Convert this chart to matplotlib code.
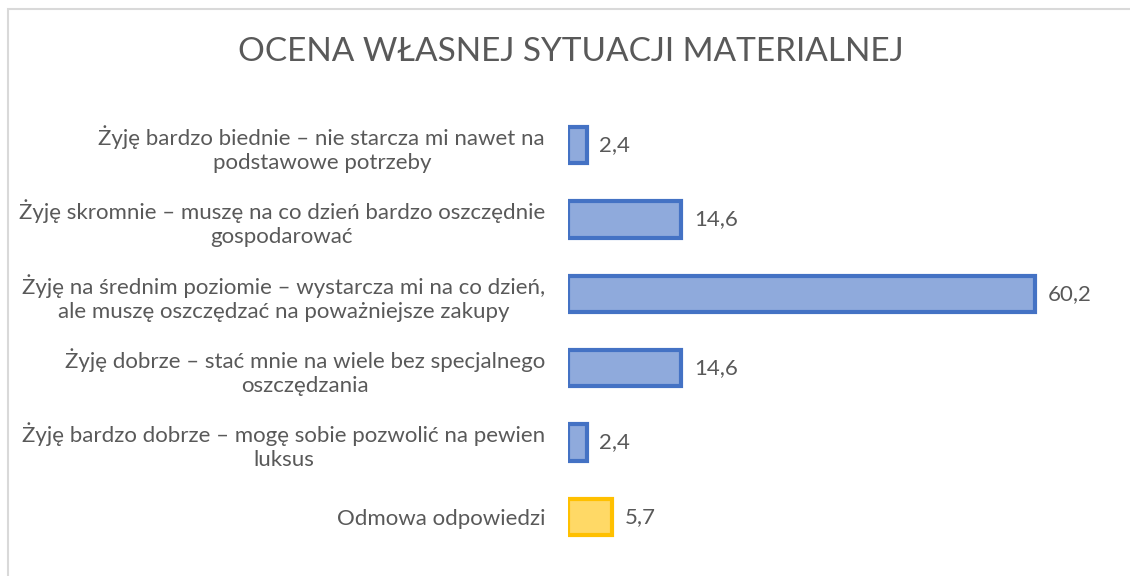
import matplotlib
matplotlib.use("Agg")
import matplotlib.pyplot as plt
from matplotlib.patches import Rectangle

plt.rcParams['font.family'] = ['Lato', 'DejaVu Sans']

categories = [
    "Żyję bardzo biednie – nie starcza mi nawet na\npodstawowe potrzeby",
    "Żyję skromnie – muszę na co dzień bardzo oszczędnie\ngospodarować",
    "Żyję na średnim poziomie – wystarcza mi na co dzień,\nale muszę oszczędzać na poważniejsze zakupy",
    "Żyję dobrze – stać mnie na wiele bez specjalnego\noszczędzania",
    "Żyję bardzo dobrze – mogę sobie pozwolić na pewien\nluksus",
    "Odmowa odpowiedzi",
]
values = [2.4, 14.6, 60.2, 14.6, 2.4, 5.7]
value_labels = ["2,4", "14,6", "60,2", "14,6", "2,4", "5,7"]
title = "OCENA WŁASNEJ SYTUACJI MATERIALNEJ"

face = ['#8FAADC'] * 5 + ['#FFD966']
edge = ['#4472C4'] * 5 + ['#FFC000']
text_col = '#595959'

W, H = 1130, 576
fig = plt.figure(figsize=(W / 100, H / 100), dpi=100)
fig.patches.append(Rectangle((7.5 / W, -0.1), 1.2, (H - 8.5) / H + 0.1,
                             transform=fig.transFigure, fill=False,
                             edgecolor='#D9D9D9', linewidth=1.5))

ax = fig.add_axes([568 / W, (576 - 554) / H, 535 / W, 446 / H])
y = list(range(len(values)))
ax.barh(y, values, height=0.49, color=face, edgecolor=edge, linewidth=3)
ax.set_ylim(len(values) - 0.5, -0.5)
ax.set_xlim(0, 68.9)
ax.set_yticks(y)
ax.set_yticklabels(categories, fontsize=16, color=text_col,
                   multialignment='center', linespacing=1.25)
ax.tick_params(axis='y', length=0, pad=16.5)
ax.set_xticks([])
for s in ax.spines.values():
    s.set_visible(False)

for yi, v, lab in zip(y, values, value_labels):
    ax.annotate(lab, (v, yi), xytext=(9, 0), textcoords='offset points',
                va='center', ha='left', fontsize=16, color=text_col)

fig.text(571 / W, 1 - 52 / H, title, ha='center', va='center',
         fontsize=24, color=text_col)

fig.savefig('out.png', dpi=100)
